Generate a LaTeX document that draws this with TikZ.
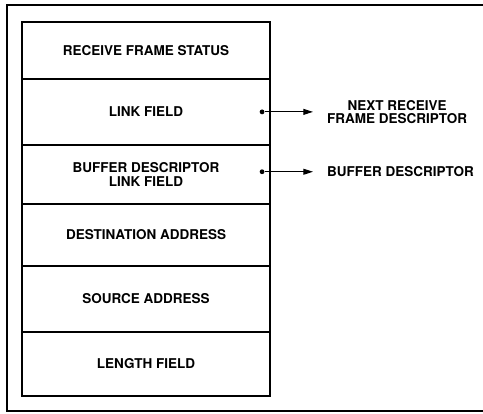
\documentclass[tikz,border=0pt]{standalone}
\usepackage{fontspec}
\setmainfont{TeX Gyre Heros}
\usepackage{tikz}
\usetikzlibrary{positioning, arrows.meta}
\tikzset{
	fieldbox/.style={
			draw=black,
			line width=1.5pt,
			outer sep=0pt,
			minimum width=8.72cm,
			inner sep=0pt,
			align=center,
			font=\fontsize{13.5}{13.5}\selectfont\bfseries
		},
	linkdot/.style={
			circle,
			fill=black,
			minimum size=1.7mm,
			inner sep=0pt
		},
	sidelabel/.style={
			inner sep=0pt,
			align=center,
			font=\fontsize{13.5}{13.5}\selectfont\bfseries
		},
	pointer/.style={
			line width=1pt,
			-{Triangle[length=3.4mm, width=2.1mm]},
			shorten >=0.49cm
		}
}
\begin{document}
\begin{tikzpicture}
\useasboundingbox (0,0) rectangle (16.98,-14.55);
% outer frame, right side runs off the page
\draw[line width=2pt] (17.3,-0.18) -- (0.25,-0.18) -- (0.25,-14.45) -- (17.3,-14.45);

\node[fieldbox, minimum height=2.00cm, anchor=north west] (rfs) at (0.773,-0.773) {RECEIVE FRAME STATUS};
\node[fieldbox, minimum height=2.32cm, below=0pt of rfs] (lnk) {LINK FIELD};
\node[fieldbox, minimum height=2.07cm, below=0pt of lnk] (bdl) {BUFFER DESCRIPTOR\\LINK FIELD};
\node[fieldbox, minimum height=2.18cm, below=0pt of bdl] (dst) {DESTINATION ADDRESS};
\node[fieldbox, minimum height=2.32cm, below=0pt of dst] (src) {SOURCE ADDRESS};
\node[fieldbox, minimum height=2.25cm, below=0pt of src] (len) {LENGTH FIELD};

\node[linkdot] (ldot) at ([xshift=-0.28cm]lnk.east) {};
\node[linkdot] (bdot) at ([xshift=-0.28cm,yshift=0.09cm]bdl.east) {};

\node[sidelabel, anchor=west] (nrfd) at ([xshift=2.28cm]ldot.center) {NEXT RECEIVE\\FRAME DESCRIPTOR};
\node[sidelabel, anchor=west] (bdesc) at ([xshift=2.28cm]bdot.center) {BUFFER DESCRIPTOR};

\draw[pointer] (ldot) -- (nrfd);
\draw[pointer] (bdot) -- (bdesc);
\end{tikzpicture}
\end{document}
